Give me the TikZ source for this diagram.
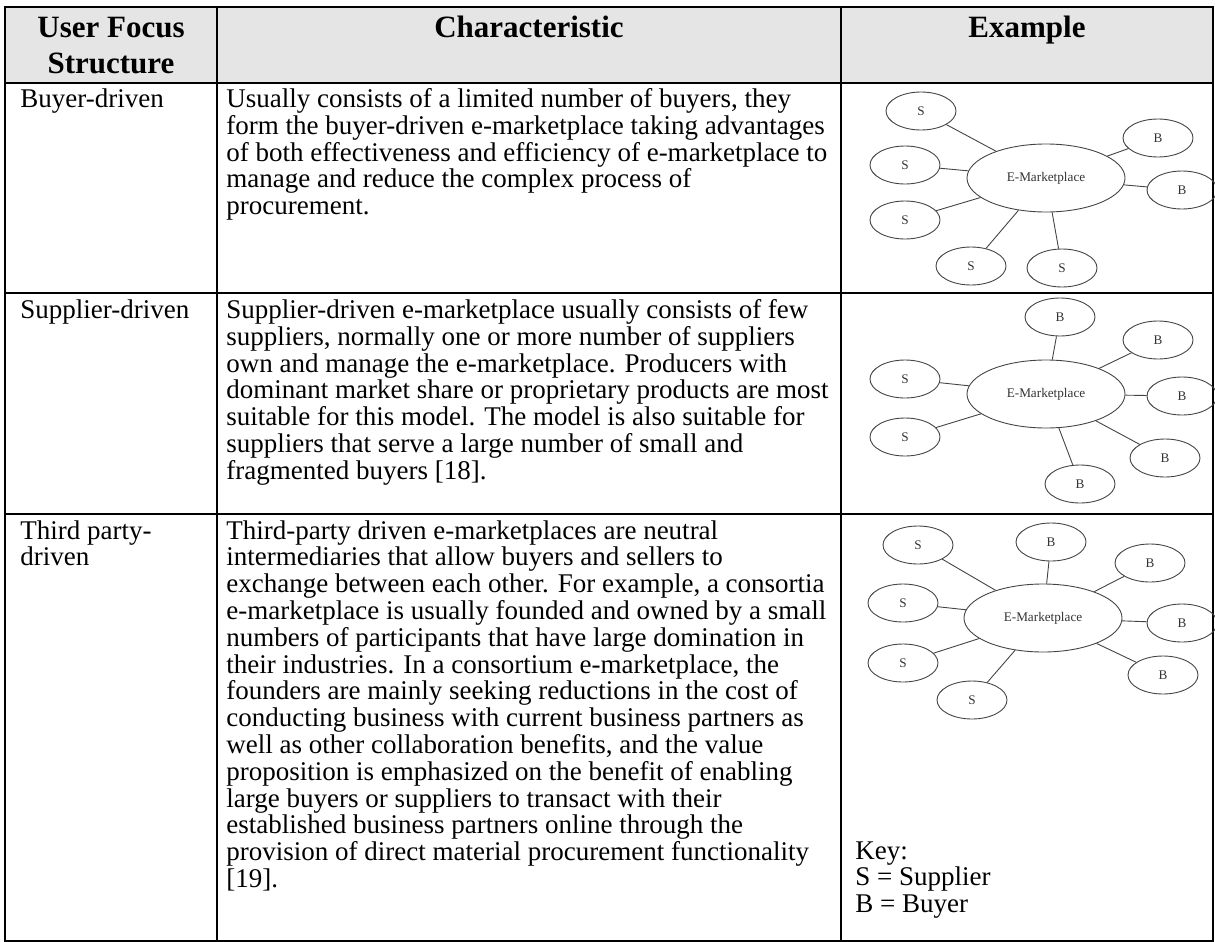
\documentclass[tikz,border=0pt]{standalone}
\usepackage{fontspec}
\setmainfont{Liberation Serif}
\usetikzlibrary{shapes.geometric}
\definecolor{headgray}{HTML}{E5E5E5}
\definecolor{inkgray}{HTML}{444444}
\newcommand\cellfont{\fontsize{13.5pt}{13.4pt}\selectfont}
\begin{document}
\lineskiplimit=-20pt
\begin{tikzpicture}[x=0.5pt,y=-0.5pt,
  grid/.style={line width=1.2pt,black},
  body/.style={anchor=north west,inner sep=0pt,align=left,font=\cellfont},
  head/.style={anchor=base,inner sep=0pt,align=center,
    font=\fontsize{15.5pt}{18pt}\selectfont\bfseries},
  party/.style={ellipse,draw=inkgray,line width=0.45pt,minimum width=35pt,
    minimum height=19pt,inner sep=0pt,text=black!80,
    font=\fontsize{6.6pt}{7pt}\selectfont},
  hub/.style={party,minimum width=79pt,minimum height=34pt},
  link/.style={draw=inkgray,line width=0.45pt}]
\useasboundingbox (0,0) rectangle (1215,942);
% header background
\fill[headgray] (5,7) rectangle (1213,83);
% grid
\draw[grid] (5,7) rectangle (1213,941);
\draw[grid] (5,83) -- (1213,83);
\draw[grid] (5,293) -- (1213,293);
\draw[grid] (5,514) -- (1213,514);
\draw[grid] (217,7) -- (217,941);
\draw[grid] (841,7) -- (841,941);
% header texts
\node[head] (h1) at (111,37) {User Focus};
\node[head] (h1b) at (111,73) {Structure};
\node[head] (h2) at (529,37) {Characteristic};
\node[head] (h3) at (1027,37) {Example};
% body texts (baseline = north + strut height)
\node[body] (r1a) at (20,88) {\strut Buyer-driven};
\node[body] (r1b) at (226,88) {\strut Usually consists of a limited number of buyers, they\\
form the buyer-driven e-marketplace taking advantages\\
of both effectiveness and efficiency of e-marketplace to\\
manage and reduce the complex process of\\
procurement.};
\node[body] (r2a) at (20,299) {\strut Supplier-driven};
\node[body] (r2b) at (226,299) {\strut Supplier-driven e-marketplace usually consists of few\\
suppliers, normally one or more number of suppliers\\
own and manage the e-marketplace. Producers with\\
dominant market share or proprietary products are most\\
suitable for this model. The model is also suitable for\\
suppliers that serve a large number of small and\\
fragmented buyers [18].};
\node[body] (r3a) at (20,520) {\strut Third party-\\driven};
\node[body] (r3b) at (226,520) {\strut Third-party driven e-marketplaces are neutral\\
intermediaries that allow buyers and sellers to\\
exchange between each other. For example, a consortia\\
e-marketplace is usually founded and owned by a small\\
numbers of participants that have large domination in\\
their industries. In a consortium e-marketplace, the\\
founders are mainly seeking reductions in the cost of\\
conducting business with current business partners as\\
well as other collaboration benefits, and the value\\
proposition is emphasized on the benefit of enabling\\
large buyers or suppliers to transact with their\\
established business partners online through the\\
provision of direct material procurement functionality\\
{[}19{]}.};
\node[body] (key) at (855,840) {\strut Key:\\S = Supplier\\B = Buyer};
% ---- diagram 1: buyer-driven
\node[hub] (e1) at (1046,178) {E-Marketplace};
\node[party] (a1) at (921,111) {S};
\node[party] (a2) at (905,165) {S};
\node[party] (a3) at (905,220) {S};
\node[party] (a4) at (971,266) {S};
\node[party] (a5) at (1062,268) {S};
\node[party] (a6) at (1158,138) {B};
\node[party] (a7) at (1182,190) {B};
\foreach \n in {a1,a2,a3,a4,a5,a6,a7} \draw[link] (e1) -- (\n);
% ---- diagram 2: supplier-driven
\node[hub] (e2) at (1046,394) {E-Marketplace};
\node[party] (b1) at (1060,317) {B};
\node[party] (b2) at (1158,340) {B};
\node[party] (b3) at (905,379) {S};
\node[party] (b4) at (1182,396) {B};
\node[party] (b5) at (905,437) {S};
\node[party] (b6) at (1165,458) {B};
\node[party] (b7) at (1080,484) {B};
\foreach \n in {b1,b2,b3,b4,b5,b6,b7} \draw[link] (e2) -- (\n);
% ---- diagram 3: third party-driven
\node[hub] (e3) at (1043,618) {E-Marketplace};
\node[party] (c1) at (918,545) {S};
\node[party] (c2) at (1051,542) {B};
\node[party] (c3) at (1150,563) {B};
\node[party] (c4) at (903,603) {S};
\node[party] (c5) at (1182,623) {B};
\node[party] (c6) at (903,663) {S};
\node[party] (c7) at (1163,675) {B};
\node[party] (c8) at (972,700) {S};
\foreach \n in {c1,c2,c3,c4,c5,c6,c7,c8} \draw[link] (e3) -- (\n);
\end{tikzpicture}
\end{document}
